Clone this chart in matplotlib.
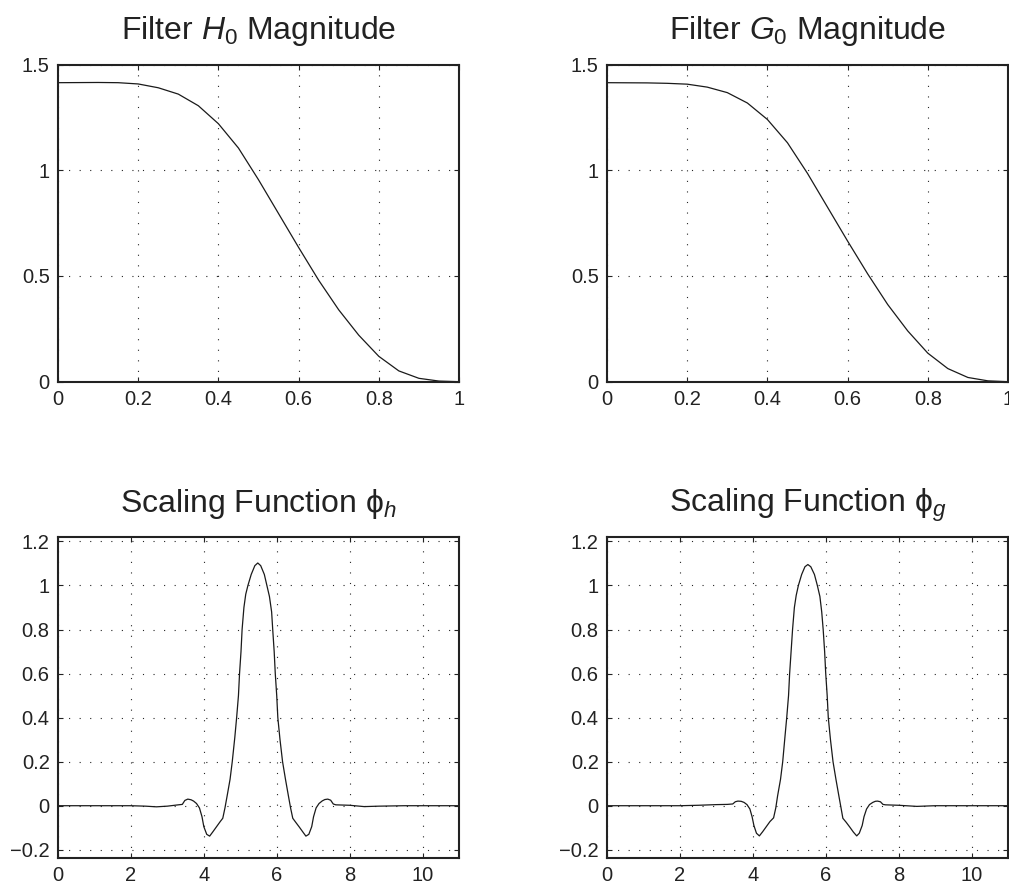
import matplotlib
matplotlib.use('Agg')
import matplotlib.pyplot as plt

# normalized frequency (x pi) and filter magnitudes
FREQ = [0.0, 0.05, 0.1, 0.15, 0.2, 0.25, 0.3, 0.35, 0.4, 0.45, 0.5,
        0.55, 0.6, 0.65, 0.7, 0.75, 0.8, 0.85, 0.9, 0.95, 1.0]
H0_MAG = [1.414, 1.4145, 1.415, 1.414, 1.408, 1.39, 1.36, 1.305, 1.22, 1.105, 0.955,
          0.795, 0.635, 0.48, 0.34, 0.22, 0.12, 0.051, 0.016, 0.003, 0.0]
G0_MAG = [1.414, 1.4135, 1.413, 1.411, 1.407, 1.393, 1.367, 1.318, 1.24, 1.13, 0.985,
          0.825, 0.665, 0.51, 0.365, 0.24, 0.135, 0.062, 0.02, 0.004, 0.0]

# scaling functions
T_H = [0.0, 1.0, 2.0, 2.4, 2.7, 3.0, 3.3, 3.41, 3.48, 3.56, 3.65, 3.72, 3.8, 3.88,
       3.95, 4.0, 4.08, 4.16, 4.25, 4.35, 4.45, 4.52, 4.58, 4.64, 4.72, 4.78, 4.85,
       4.9, 4.95, 4.98, 5.02, 5.05, 5.1, 5.15, 5.21, 5.3, 5.4, 5.48, 5.56, 5.66,
       5.73, 5.8, 5.86, 5.89, 5.93, 5.96, 6.0, 6.03, 6.09, 6.16, 6.24, 6.32, 6.38,
       6.44, 6.52, 6.62, 6.72, 6.8, 6.88, 6.96, 7.01, 7.08, 7.16, 7.25, 7.32, 7.4,
       7.48, 7.55, 7.62, 8.0, 8.4, 8.8, 9.5, 11.0]
PHI_H = [0.0, 0.0, 0.0, -0.002, -0.005, -0.002, 0.004, 0.006, 0.024, 0.03, 0.027,
         0.021, 0.01, -0.01, -0.05, -0.095, -0.13, -0.138, -0.118, -0.095, -0.072,
         -0.057, -0.01, 0.045, 0.12, 0.2, 0.31, 0.4, 0.5, 0.6, 0.7, 0.8, 0.9, 0.96,
         1.0, 1.05, 1.09, 1.102, 1.09, 1.05, 1.0, 0.95, 0.88, 0.8, 0.7, 0.6, 0.5,
         0.4, 0.3, 0.2, 0.12, 0.045, -0.01, -0.057, -0.075, -0.097, -0.12, -0.138,
         -0.13, -0.095, -0.05, -0.01, 0.01, 0.022, 0.028, 0.03, 0.025, 0.008, 0.004,
         0.002, -0.004, -0.002, 0.0, 0.0]

T_G = [0.0, 1.0, 2.0, 2.5, 3.0, 3.3, 3.45, 3.52, 3.59, 3.68, 3.76, 3.84, 3.92,
       3.98, 4.03, 4.1, 4.18, 4.27, 4.37, 4.47, 4.57, 4.63, 4.68, 4.76, 4.82, 4.88,
       4.93, 4.98, 5.01, 5.05, 5.09, 5.14, 5.19, 5.25, 5.34, 5.43, 5.51, 5.59, 5.69,
       5.77, 5.84, 5.89, 5.93, 5.97, 6.0, 6.04, 6.07, 6.13, 6.2, 6.28, 6.36, 6.42,
       6.47, 6.56, 6.66, 6.76, 6.85, 6.92, 7.0, 7.05, 7.12, 7.2, 7.29, 7.36, 7.42,
       7.5, 7.57, 7.64, 8.0, 8.5, 9.0, 11.0]
PHI_G = [0.0, 0.0, 0.0, 0.002, 0.005, 0.006, 0.008, 0.018, 0.021, 0.02, 0.015,
         0.005, -0.015, -0.05, -0.09, -0.125, -0.137, -0.118, -0.095, -0.072,
         -0.055, -0.01, 0.045, 0.12, 0.2, 0.31, 0.4, 0.5, 0.6, 0.7, 0.8, 0.9, 0.955,
         1.0, 1.05, 1.085, 1.095, 1.085, 1.05, 1.0, 0.95, 0.88, 0.8, 0.7, 0.6, 0.5,
         0.4, 0.3, 0.2, 0.12, 0.045, -0.01, -0.057, -0.075, -0.097, -0.12, -0.137,
         -0.125, -0.09, -0.05, -0.015, 0.005, 0.015, 0.02, 0.021, 0.018, 0.006,
         0.004, 0.002, -0.003, 0.0, 0.0]

plt.rcParams['font.family'] = ['Liberation Sans', 'DejaVu Sans']
plt.rcParams['mathtext.fontset'] = 'custom'
plt.rcParams['mathtext.rm'] = 'Liberation Sans'
plt.rcParams['mathtext.it'] = 'Liberation Sans:italic'
plt.rcParams['mathtext.bf'] = 'Liberation Sans:bold'

FW, FH = 1009, 890


def _rect(left, top, right, bottom):
    return [left / FW, 1 - bottom / FH, (right - left) / FW, (bottom - top) / FH]


def _style(ax, title, xlim, ylim, xticks, yticks, xlabels, ylabels):
    ax.set_xlim(*xlim)
    ax.set_ylim(*ylim)
    ax.set_xticks(xticks)
    ax.set_yticks(yticks)
    ax.set_xticklabels(xlabels)
    ax.set_yticklabels(ylabels)
    ax.grid(True, color='0.15', linestyle=(0, (1, 8.5)), linewidth=0.8)
    ax.tick_params(direction='in', top=True, right=True, length=3.5, width=0.8,
                   labelsize=14.5, colors='#222222')
    ax.tick_params(axis='x', pad=6)
    ax.tick_params(axis='y', pad=6)
    for s in ax.spines.values():
        s.set_linewidth(1.5)
        s.set_color('#222222')
    ax.set_title(title, fontsize=23, pad=18, color='#222222')


def main():
    fig = plt.figure(figsize=(FW / 100, FH / 100), dpi=100)
    ax1 = fig.add_axes(_rect(58, 64.5, 459, 381.7))
    ax2 = fig.add_axes(_rect(607, 64.5, 1008, 381.7))
    ax3 = fig.add_axes(_rect(58, 537, 459, 857.7))
    ax4 = fig.add_axes(_rect(607, 537, 1008, 857.7))

    fticks = [0, 0.2, 0.4, 0.6, 0.8, 1.0]
    flabels = ['0', '0.2', '0.4', '0.6', '0.8', '1']
    mticks = [0, 0.5, 1.0, 1.5]
    mlabels = ['0', '0.5', '1', '1.5']
    tticks = [0, 2, 4, 6, 8, 10]
    tlabels = ['0', '2', '4', '6', '8', '10']
    sticks = [-0.2, 0, 0.2, 0.4, 0.6, 0.8, 1.0, 1.2]
    slabels = ['\u22120.2', '0', '0.2', '0.4', '0.6', '0.8', '1', '1.2']

    ax1.plot(FREQ, H0_MAG, color='#1a1a1a', linewidth=0.9)
    ax2.plot(FREQ, G0_MAG, color='#1a1a1a', linewidth=0.9)
    ax3.plot(T_H, PHI_H, color='#1a1a1a', linewidth=0.9)
    ax4.plot(T_G, PHI_G, color='#1a1a1a', linewidth=0.9)

    _style(ax1, r'Filter $H_0$ Magnitude', (0, 1), (0, 1.5), fticks, mticks, flabels, mlabels)
    _style(ax2, r'Filter $G_0$ Magnitude', (0, 1), (0, 1.5), fticks, mticks, flabels, mlabels)
    _style(ax3, 'Scaling Function \u03d5$_{h}$', (0, 11), (-0.236, 1.22), tticks, sticks, tlabels, slabels)
    _style(ax4, 'Scaling Function \u03d5$_{g}$', (0, 11), (-0.236, 1.22), tticks, sticks, tlabels, slabels)

    fig.savefig('out.png', dpi=100)


if __name__ == '__main__':
    main()
